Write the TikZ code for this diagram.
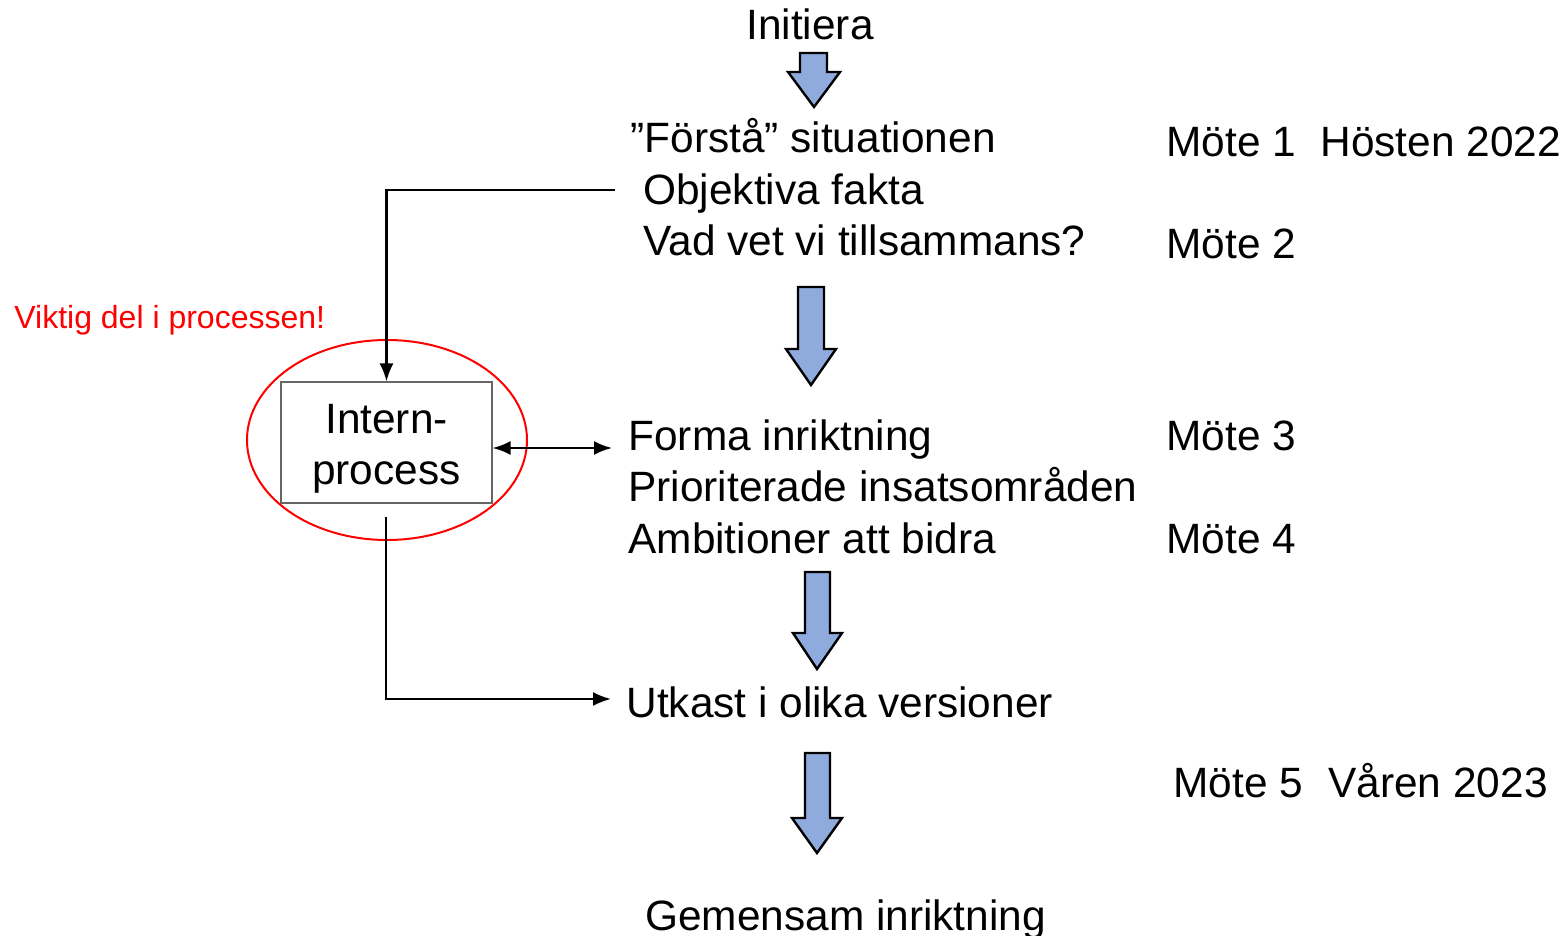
\documentclass[tikz,border=0pt]{standalone}
\usepackage{fontspec}
\setmainfont{Liberation Sans}
\usetikzlibrary{arrows.meta,shapes.geometric}
\definecolor{pilblue}{RGB}{143,170,220}
\tikzset{
  txt/.style={anchor=base west,inner sep=0pt,font=\fontsize{21.2}{25}\selectfont},
  pil/.style={fill=pilblue,draw=black,line width=1.2pt,line join=miter},
  linje/.style={line width=1.1pt},
}
\begin{document}
\begin{tikzpicture}[x=0.5pt,y=-0.5pt,>={Latex[length=9pt,width=7pt]}]
\useasboundingbox (0,0) rectangle (1565,936);
% texts
\node[txt,anchor=base] (initiera) at (810,40) {Initiera};
\node[txt] (forsta) at (630,153) {”Förstå” situationen};
\node[txt] (objektiva) at (643,205) {Objektiva fakta};
\node[txt] (vadvet) at (643,256) {Vad vet vi tillsammans?};
\node[txt] (mote1) at (1166,157) {Möte 1};
\node[txt] (hosten) at (1320,157) {Hösten 2022};
\node[txt] (mote2) at (1166,259) {Möte 2};
\node[txt] (forma) at (628,451) {Forma inriktning};
\node[txt] (prio) at (628,502) {Prioriterade insatsområden};
\node[txt] (ambition) at (628,553) {Ambitioner att bidra};
\node[txt] (mote3) at (1166,451) {Möte 3};
\node[txt] (mote4) at (1166,553) {Möte 4};
\node[txt] (utkast) at (626,717) {Utkast i olika versioner};
\node[txt] (mote5) at (1173,797) {Möte 5};
\node[txt] (varen) at (1328,797) {Våren 2023};
\node[txt] (gemensam) at (645,930) {Gemensam inriktning};
\node[anchor=base west,inner sep=0pt,text=red,font=\fontsize{16}{19}\selectfont] (viktig) at (14,329) {Viktig del i processen!};
% intern process
\node[draw=black!60,line width=0.6pt,minimum width=105.5pt,minimum height=60.5pt] (intern) at (386.5,442.5) {};
\node[align=center,inner sep=0pt,font=\fontsize{21.2}{25.5}\selectfont] (interntxt) at (386.5,449) {Intern-\\process};
\node[draw=red,line width=1pt,ellipse,minimum width=140pt,minimum height=100pt] (ring) at (387,440) {};
% block arrows
\draw[pil] (800,53) -- (827,53) -- (827,72) -- (840,72) -- (814,107) -- (788,72) -- (800,72) -- cycle;
\draw[pil] (798,287) -- (824,287) -- (824,349) -- (836,349) -- (811,385) -- (786,349) -- (798,349) -- cycle;
\draw[pil] (805,572) -- (830,572) -- (830,633) -- (842,633) -- (817,669) -- (793,633) -- (805,633) -- cycle;
\draw[pil] (805,753) -- (830,753) -- (830,818) -- (842,818) -- (817,853) -- (792,818) -- (805,818) -- cycle;
% connectors
\coordinate (inn) at (615,190);
\coordinate (ut) at (386,517);
\coordinate (fe) at (612,448);
\coordinate (ue) at (611,699);
\draw[linje,->] (inn) -| (intern.north);
\draw[linje,<->] (intern.east |- fe) -- (fe);
\draw[linje,->] (ut) |- (ue);
\end{tikzpicture}
\end{document}
